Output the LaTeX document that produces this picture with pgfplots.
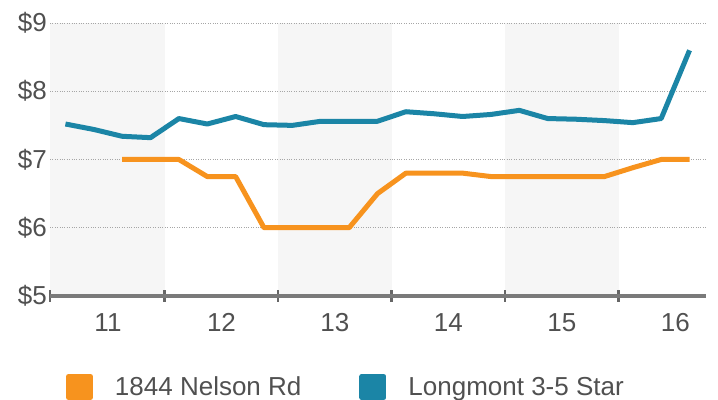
\documentclass[border=0pt]{standalone}
\usepackage{pgfplots}
\pgfplotsset{compat=1.18}
\usepackage{fontspec}
\setmainfont{Liberation Sans}
\definecolor{myorange}{HTML}{F7931E}
\definecolor{myblue}{HTML}{1B85A6}
\definecolor{txt}{HTML}{505050}
\definecolor{band}{HTML}{F6F6F6}
\definecolor{axgray}{HTML}{7A7A7A}
\pgfplotsset{geom/.style={at={(50bp,104bp)}, anchor=south west,
  scale only axis, width=656bp, height=273bp,
  xmin=10.489, xmax=16.27, ymin=5, ymax=9}}
\begin{document}
\begin{tikzpicture}
\path[use as bounding box] (0bp,0bp) rectangle (718bp,400bp);
% background bands
\begin{axis}[geom, hide axis]
\addplot[fill=band, draw=none] coordinates {(10.489,5) (11.5,5) (11.5,9) (10.489,9)} -- cycle;
\addplot[fill=band, draw=none] coordinates {(12.5,5) (13.5,5) (13.5,9) (12.5,9)} -- cycle;
\addplot[fill=band, draw=none] coordinates {(14.5,5) (15.5,5) (15.5,9) (14.5,9)} -- cycle;
\end{axis}
\begin{axis}[
  geom,
  axis x line*=bottom, axis y line*=left,
  y axis line style={draw=none},
  x axis line style={line width=3bp, color=axgray},
  xtick={11,12,13,14,15,16},
  minor xtick={10.489,11.5,12.5,13.5,14.5,15.5},
  major tick length=0pt,
  minor tick length=11bp,
  tick align=center,
  minor x tick style={line width=2.5bp, color=black!60},
  ytick={5,6,7,8,9},
  yticklabel={\$\pgfmathprintnumber{\tick}},
  ymajorgrids,
  grid style={dotted, line width=0.8bp, color=black!35},
  tick label style={font=\fontsize{26bp}{30bp}\selectfont, text=txt},
  /pgf/number format/assume math mode=true,
  yticklabel style={inner sep=0pt, xshift=-3bp},
  xticklabel style={inner sep=0pt, yshift=-17bp},
  clip=false,
  legend columns=2,
  legend image code/.code={\fill[#1] (0bp,-10.5bp) rectangle (22bp,10.5bp);},
  legend style={draw=none, fill=none, inner sep=0pt, outer sep=0pt,
    at={(axis description cs:0,0)}, anchor=west, xshift=16bp, yshift=-91bp,
    nodes={inner sep=0pt, text=txt, font=\fontsize{26bp}{30bp}\selectfont},
    /tikz/every odd column/.style={column sep=22bp},
    /tikz/every even column/.style={column sep=58bp}},
]
% orange
\addplot[color=myorange, line width=5bp, line join=round] coordinates {
(11.125,7.0) (11.375,7.0) (11.625,7.0) (11.875,6.75) (12.125,6.75)
(12.375,6.0) (12.625,6.0) (12.875,6.0) (13.125,6.0) (13.375,6.5)
(13.625,6.8) (13.875,6.8) (14.125,6.8) (14.375,6.75) (14.625,6.75)
(14.875,6.75) (15.125,6.75) (15.375,6.75) (15.625,6.88) (15.875,7.0) (16.125,7.0)};
\addlegendentry{1844 Nelson Rd}
% blue
\addplot[color=myblue, line width=5bp, line join=round] coordinates {
(10.625,7.52) (10.875,7.44) (11.125,7.34) (11.375,7.32) (11.625,7.60)
(11.875,7.52) (12.125,7.63) (12.375,7.51) (12.625,7.50) (12.875,7.56)
(13.125,7.56) (13.375,7.56) (13.625,7.70) (13.875,7.67) (14.125,7.63)
(14.375,7.66) (14.625,7.72) (14.875,7.60) (15.125,7.59) (15.375,7.57)
(15.625,7.54) (15.875,7.60) (16.125,8.60)};
\addlegendentry{Longmont 3-5 Star}
\end{axis}
\end{tikzpicture}
\end{document}
